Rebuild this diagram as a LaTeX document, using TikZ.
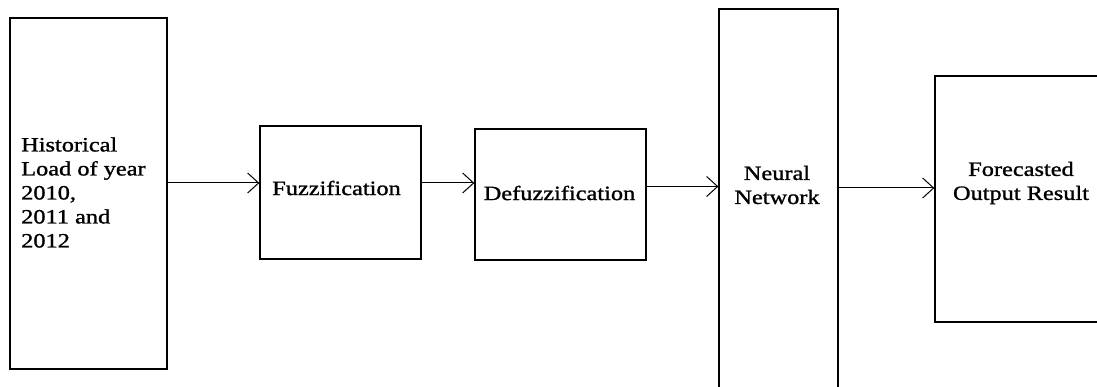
\documentclass[tikz,border=0pt]{standalone}
\usepackage{fontspec}
\setmainfont{Liberation Serif}[FakeStretch=1.2,FakeBold=1.2]
\usetikzlibrary{arrows.meta}
\tikzset{
  box/.style={draw=black, line width=1.3pt, rectangle, inner sep=0pt},
  lbl/.style={inner sep=0pt, font=\fontsize{20.3}{24}\selectfont},
  arr/.style={draw=black, line width=1pt, -{Straight Barb[length=11pt,width=20pt,line width=1pt]}}
}
\begin{document}
\begin{tikzpicture}[x=1pt,y=-1pt]
\clip (0,0) rectangle (1097,387);
\fill[white] (0,0) rectangle (1097,387);
% boxes
\node[box, minimum width=157pt, minimum height=351pt] (b1) at (88.5,193.5) {};
\node[box, minimum width=161pt, minimum height=133pt] (b2) at (340.5,192.5) {};
\node[box, minimum width=171pt, minimum height=131pt] (b3) at (560.5,194.5) {};
\node[box, minimum width=119pt, minimum height=411pt] (b4) at (778.5,214.5) {};
\node[box, minimum width=180pt, minimum height=246pt] (b5) at (1025,199) {};
% labels
\node[lbl, anchor=west, align=left] (t1) at (21,192.5) {Historical\\Load of year\\2010,\\2011 and\\2012};
\node[lbl] (t2) at (336.5,188) {Fuzzification};
\node[lbl] (t3) at (559.5,193) {Defuzzification};
\node[lbl, align=center] (t4) at (777,185) {Neural\\Network};
\node[lbl, align=center] (t5) at (1021,183) {Forecasted\\Output Result};
% arrow heights
\coordinate (y1) at (0,183);
\coordinate (y2) at (0,183);
\coordinate (y3) at (0,186.5);
\coordinate (y4) at (0,188);
\draw[arr] (b1.east |- y1) -- (b2.west |- y1);
\draw[arr] (b2.east |- y2) -- (b3.west |- y2);
\draw[arr] (b3.east |- y3) -- (b4.west |- y3);
\draw[arr] (b4.east |- y4) -- (b5.west |- y4);
\end{tikzpicture}
\end{document}
